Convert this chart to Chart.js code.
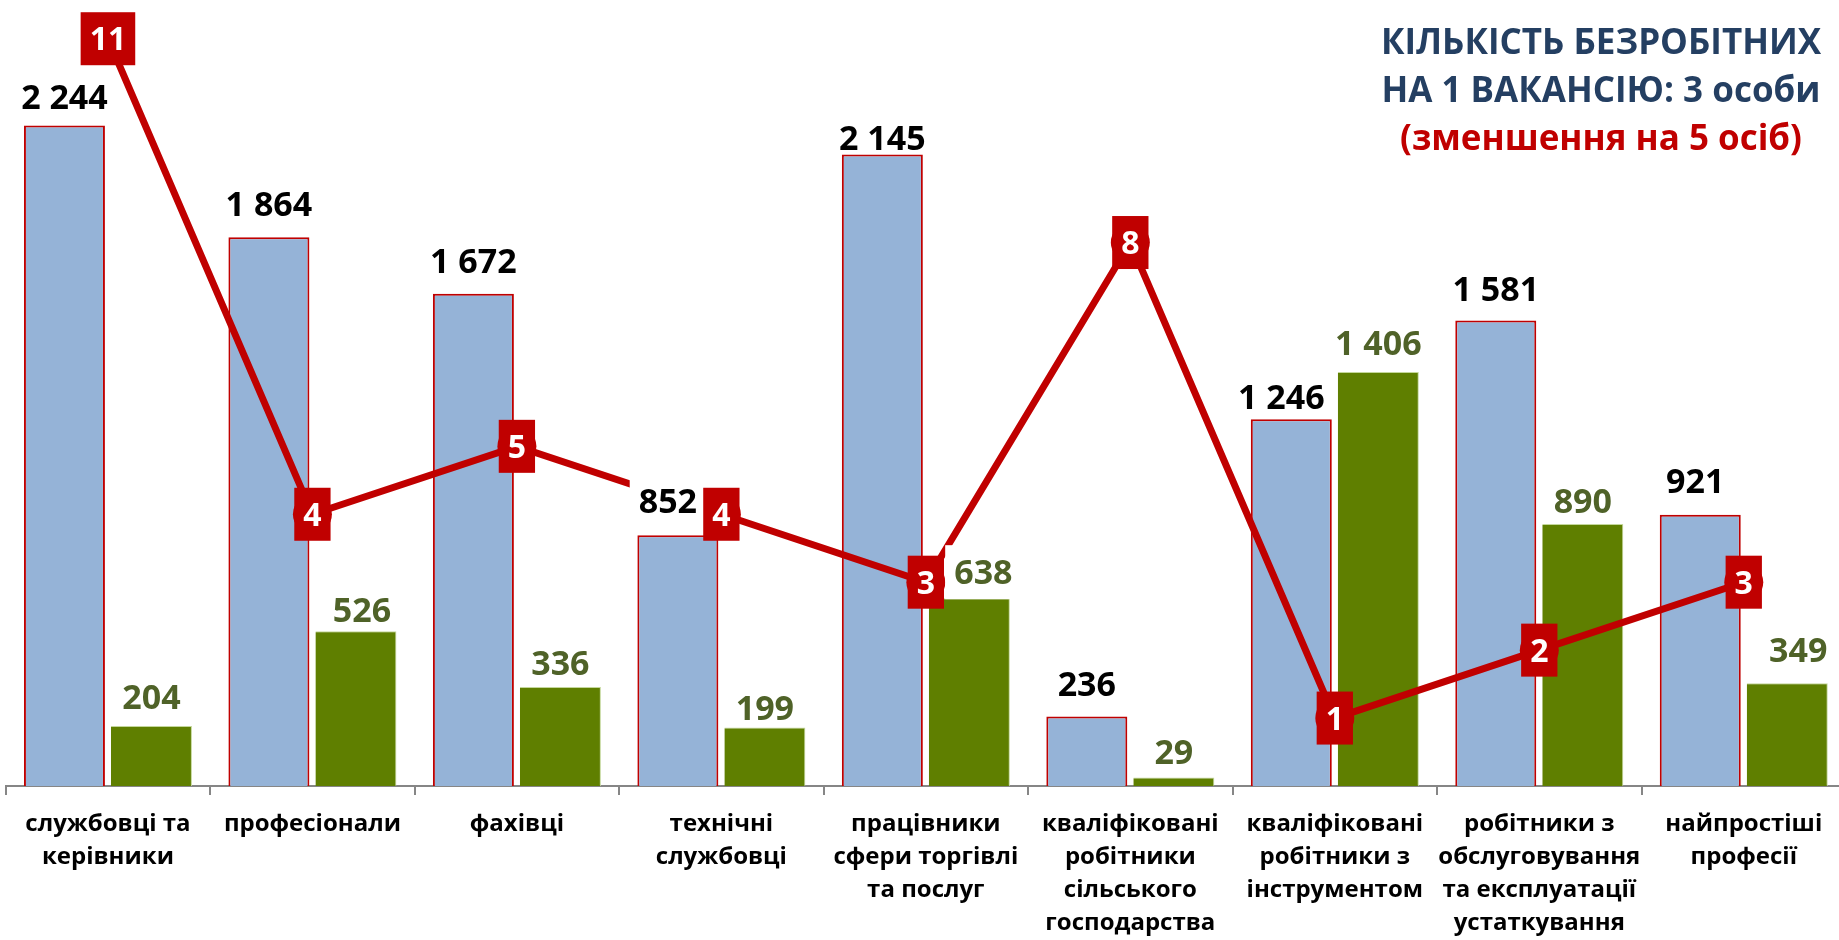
<!DOCTYPE html>
<html><head><meta charset="utf-8">
<script src="https://cdn.jsdelivr.net/npm/chart.js@4.4.0/dist/chart.umd.min.js"></script>
<style>html,body{margin:0;padding:0;background:#fff;overflow:hidden}#wrap{position:relative;width:1839px;height:940px;overflow:hidden}</style>
</head><body><div id="wrap"><canvas id="c" width="1846" height="940"></canvas></div>
<script>
const categories = [["службовці та","керівники"],["професіонали"],["фахівці"],["технічні","службовці"],["працівники","сфери торгівлі","та послуг"],["кваліфіковані","робітники","сільського","господарства"],["кваліфіковані","робітники з","інструментом"],["робітники з","обслуговування","та експлуатації","устаткування"],["найпростіші","професії"]];
const unemployed = [2244,1864,1672,852,2145,236,1246,1581,921];
const vacancies = [204,526,336,199,638,29,1406,890,349];
const perVacancy = [11,4,5,4,3,8,1,2,3];
const titleLines = ["КІЛЬКІСТЬ БЕЗРОБІТНИХ","НА 1 ВАКАНСІЮ: 3 особи","(зменшення на 5 осіб)"];

const FONT = '"Open Sans", "Noto Sans", sans-serif';
const fmt = v => String(v).replace(/\B(?=(\d{3})+(?!\d))/g, ' ');
// manual label placement (pixels), as in the original slide
const labelRise = {0: [28,33,33,34,17,33,22,32,34], 1: [29,21,24,19,26,25,29,23,33]};
const labelShift = {0: {3:-10, 6:-10, 8:-5}, 1: {1:6, 4:14, 8:11}};
const labelFilled = {0: {3:true}, 1: {4:true}};

const labelPlugin = {
  id: 'labels',
  afterDatasetsDraw(chart) {
    const ctx = chart.ctx;
    ctx.save();
    ctx.textAlign = 'center';
    ctx.textBaseline = 'alphabetic';
    ctx.font = 'bold 34px ' + FONT;
    [[0, '#000000'], [1, '#4F6228']].forEach(([di, color]) => {
      const meta = chart.getDatasetMeta(di);
      meta.data.forEach((bar, i) => {
        const txt = fmt(chart.data.datasets[di].data[i]);
        const x = bar.x + (labelShift[di][i] || 0);
        const cy = bar.y - labelRise[di][i];
        const w = ctx.measureText(txt).width;
        if (labelFilled[di][i]) {
          ctx.fillStyle = '#ffffff';
          ctx.fillRect(x - w / 2 - 9, cy - 27, w + 18, 54);
        }
        ctx.fillStyle = color;
        ctx.fillText(txt, x, cy + 12);
      });
    });
    const lm = chart.getDatasetMeta(2);
    ctx.font = 'bold 32px ' + FONT;
    lm.data.forEach((pt, i) => {
      const txt = String(chart.data.datasets[2].data[i]);
      const w = ctx.measureText(txt).width;
      const bw = w + 18, bh = 53;
      ctx.fillStyle = '#C00000';
      ctx.fillRect(pt.x - bw / 2, pt.y - bh / 2, bw, bh);
      ctx.fillStyle = '#ffffff';
      ctx.fillText(txt, pt.x, pt.y + 11.5);
    });
    ctx.textBaseline = 'middle';
    ctx.font = 'bold 35px ' + FONT;
    const tc = ['#243F62', '#243F62', '#C00000'];
    titleLines.forEach((t, i) => {
      ctx.fillStyle = tc[i];
      ctx.fillText(t, 1601, 44 + i * 48);
    });
    ctx.restore();
  }
};

new Chart(document.getElementById('c'), {
  data: {
    labels: categories,
    datasets: [
      {type: 'bar', label: 'безробітні', data: unemployed, backgroundColor: '#95B3D7', borderColor: '#C00000',
       borderWidth: {left: 2, right: 2, top: 2, bottom: 0}, borderSkipped: 'bottom', yAxisID: 'y', order: 2,
       categoryPercentage: 0.851, barPercentage: 0.931},
      {type: 'bar', label: 'вакансії', data: vacancies, backgroundColor: '#5F7F00', borderColor: '#C4D79B',
       borderWidth: {left: 0, right: 1, top: 1, bottom: 0}, borderSkipped: 'bottom', yAxisID: 'y', order: 2,
       categoryPercentage: 0.851, barPercentage: 0.931},
      {type: 'line', label: 'на 1 вакансію', data: perVacancy, borderColor: '#C00000', borderWidth: 7,
       pointRadius: 19.5, pointBackgroundColor: '#C00000', pointBorderWidth: 0, yAxisID: 'y2', order: 1, tension: 0}
    ]
  },
  options: {
    responsive: false, animation: false, events: [],
    layout: {autoPadding: false, padding: {left: 5.7, right: 0, top: 0, bottom: 0}},
    plugins: {legend: {display: false}, tooltip: {enabled: false}, title: {display: false}},
    scales: {
      x: {
        grid: {offset: true, drawOnChartArea: false, drawTicks: true, tickLength: 9, color: '#868686', lineWidth: 2},
        border: {display: true, color: '#868686', width: 2},
        ticks: {maxRotation: 0, minRotation: 0, autoSkip: false, color: '#000', padding: 13,
                font: {family: FONT, weight: 'bold', size: 24, lineHeight: 1.375}},
        afterFit(s) { s.height = 154; s.paddingLeft = 0; s.paddingRight = 0; }
      },
      y: {display: false, min: 0, max: 2670},
      y2: {display: false, min: 0, max: 11.57, position: 'right'}
    }
  },
  plugins: [labelPlugin]
});
</script></body></html>
